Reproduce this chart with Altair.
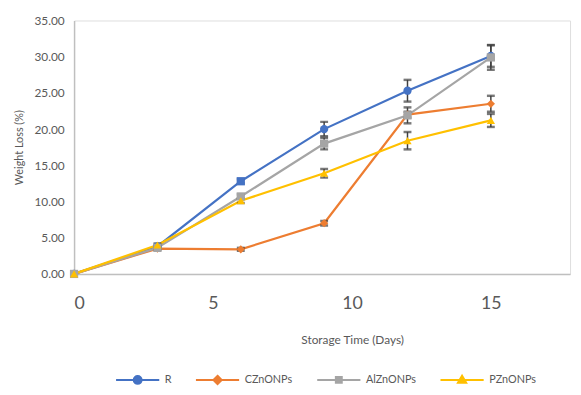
import altair as alt
import pandas as pd

days = [0, 3, 6, 9, 12, 15]
series_names = ["R", "CZnONPs", "AlZnONPs", "PZnONPs"]
r_vals = [0.0, 3.8, 12.8, 20.0, 25.3, 30.1]
cz_vals = [0.0, 3.5, 3.4, 7.0, 22.0, 23.5]
al_vals = [0.0, 3.6, 10.7, 18.0, 21.9, 29.9]
p_vals = [0.0, 4.0, 10.1, 13.9, 18.4, 21.2]
r_err = [0.0, 0.2, 0.3, 1.0, 1.5, 1.5]
cz_err = [0.0, 0.2, 0.2, 0.3, 0.4, 1.1]
al_err = [0.0, 0.2, 0.3, 0.8, 1.1, 1.7]
p_err = [0.0, 0.2, 0.3, 0.6, 1.2, 0.9]
y_ticks = [0, 5, 10, 15, 20, 25, 30, 35]
x_ticks = [0, 5, 10, 15]

colors = ["#4472C4", "#ED7D31", "#A5A5A5", "#FFC000"]
marker_shapes = ["circle", "diamond", "square", "triangle-up"]
legend_paths = [
    "M-7.3,0H-1.33A1.33,1.33 0 1,1 1.33,0A1.33,1.33 0 1,1 -1.33,0M1.33,0H7.3",
    "M-7.3,0H7.3M0,-1.4L1.4,0L0,1.4L-1.4,0Z",
    "M-7.3,0H7.3M-1,-1H1V1H-1Z",
    "M-7.3,0H7.3M0,-1.4L1.4,1H-1.4Z",
]

rows = []
for name, vals, errs in zip(series_names, [r_vals, cz_vals, al_vals, p_vals],
                            [r_err, cz_err, al_err, p_err]):
    for d, v, e in zip(days, vals, errs):
        rows.append({"day": d, "series": name, "value": v, "err": e,
                     "lo": v - e, "hi": v + e})
df = pd.DataFrame(rows)

FONT = "Lato"
GREY = "#595959"

xscale = alt.Scale(domain=[0, 17.85], nice=False)
yscale = alt.Scale(domain=[0, 35], nice=False)
cscale = alt.Scale(domain=series_names, range=colors)

x_axis = alt.Axis(
    values=x_ticks, grid=False, ticks=False, labelFontSize=18, labelColor=GREY,
    labelFont=FONT, labelPadding=21, domainColor="#BFBFBF", domainWidth=1.5,
    title="Storage Time (Days)", titleFont=FONT, titleFontSize=12,
    titleFontWeight="normal", titleColor=GREY, titlePadding=23,
    titleX=282, titleAlign="center",
)
y_axis = alt.Axis(
    values=y_ticks, format=".2f", grid=False, ticks=False, labelFontSize=12,
    labelColor=GREY, labelFont=FONT, labelPadding=10, domainColor="#BFBFBF",
    domainWidth=1.5, title="Weight Loss (%)", titleFont=FONT, titleFontSize=11,
    titleFontWeight="normal", titleColor=GREY, titlePadding=10,
)

X = alt.X("day:Q", scale=xscale, axis=x_axis)
base = alt.Chart(df)

lines = base.mark_line(strokeWidth=2.25).encode(
    x=X,
    y=alt.Y("value:Q", scale=yscale, axis=y_axis),
    color=alt.Color("series:N", scale=cscale, legend=None),
    detail="series:N",
    order="day:Q",
)

rules = base.mark_rule(color="#404040", strokeWidth=1.5).encode(
    x=X,
    y=alt.Y("lo:Q", scale=yscale, axis=y_axis),
    y2="hi:Q",
)
caps_lo = base.mark_tick(orient="horizontal", color="#404040", size=8, thickness=2.5).encode(
    x=X,
    y=alt.Y("lo:Q", scale=yscale, axis=y_axis),
)
caps_hi = base.mark_tick(orient="horizontal", color="#404040", size=8, thickness=2.5).encode(
    x=X,
    y=alt.Y("hi:Q", scale=yscale, axis=y_axis),
)

points = base.mark_point(filled=True, opacity=1, size=70).encode(
    x=X,
    y=alt.Y("value:Q", scale=yscale, axis=y_axis),
    color=alt.Color("series:N", scale=cscale, legend=None),
    shape=alt.condition(
        "datum.series == 'R' && datum.day == 6",
        alt.value("square"),
        alt.Shape("series:N", scale=alt.Scale(domain=series_names, range=marker_shapes), legend=None),
    ),
)

legend_layer = base.transform_filter("datum.day > 100").mark_point(
    filled=True, opacity=1, size=36, strokeWidth=2
).encode(
    x=X,
    y=alt.Y("value:Q", scale=yscale, axis=y_axis),
    color=alt.Color("series:N", scale=cscale, legend=alt.Legend(
        title=None, orient="none", direction="horizontal", legendX=59, legendY=359,
        labelFont=FONT, labelFontSize=11, labelColor=GREY, labelOffset=22,
        columnPadding=20, padding=0, symbolSize=36, symbolStrokeWidth=2,
        gridAlign="none",
    )),
    stroke=alt.Stroke("series:N", scale=cscale, legend=None),
    shape=alt.Shape("series:N", scale=alt.Scale(domain=series_names, range=legend_paths), legend=None),
)

chart = alt.layer(lines, rules, caps_lo, caps_hi, points, legend_layer).resolve_scale(
    color="independent", shape="independent", stroke="independent"
).properties(
    width=503, height=257,
    autosize=alt.AutoSizeParams(type="none"),
    padding={"left": 67, "top": 10, "right": 3, "bottom": 112},
).configure_view(stroke=None).configure(font=FONT)

chart.save("out.html", embed_options={"renderer": "svg", "actions": False})
